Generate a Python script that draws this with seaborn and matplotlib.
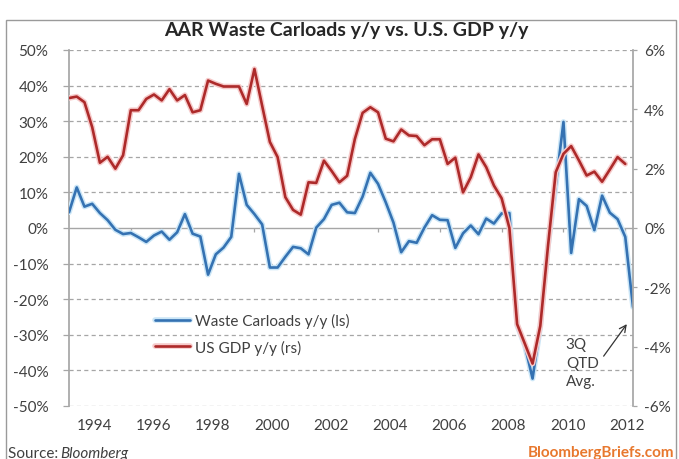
import numpy as np
import pandas as pd
import matplotlib
matplotlib.use("Agg")
import matplotlib.pyplot as plt
import matplotlib.patheffects as pe
from matplotlib.patches import Rectangle
import seaborn as sns

# Quarterly series, y/y % change
carloads = [4.4, 11.4, 6.0, 6.8, 4.2, 2.2, -0.5, -1.7, -1.4, -2.6,
            -3.9, -2.1, -1.0, -3.3, -1.2, 3.9, -1.6, -2.4, -13.1, -7.4,
            -5.5, -2.5, 15.2, 6.5, 3.9, 1.0, -11.1, -11.1, -8.1, -5.3,
            -5.7, -7.4, 0.1, 2.5, 6.5, 7.1, 4.4, 4.2, 8.8, 15.5,
            12.4, 7.2, 1.5, -6.8, -3.7, -4.15, 0.1, 3.6, 2.3, 2.2,
            -5.6, -1.5, 0.7, -1.75, 2.65, 1.25, 4.1, 4.2, -27.3, -33.0,
            -42.3, -27.7, -5.1, 11.9, 29.8, -7.0, 8.1, 6.2, -0.6, 9.1,
            4.3, 2.5, -2.5, -22.2]
gdp = [4.38, 4.43, 4.24, 3.4, 2.2, 2.4, 2.0, 2.45, 3.97, 3.97,
       4.35, 4.5, 4.3, 4.68, 4.3, 4.48, 3.9, 3.97, 4.97, 4.86,
       4.77, 4.77, 4.77, 4.18, 5.36, 4.12, 2.9, 2.39, 1.04, 0.61,
       0.45, 1.54, 1.52, 2.27, 1.92, 1.54, 1.76, 3.0, 3.88, 4.07,
       3.9, 3.01, 2.92, 3.32, 3.12, 3.1, 2.79, 2.99, 2.99, 2.16,
       2.37, 1.2, 1.71, 2.48, 2.05, 1.43, 1.0, 0.0, -3.24, -3.9,
       -4.57, -3.3, -0.6, 1.88, 2.5, 2.76, 2.28, 1.77, 1.9, 1.56,
       1.97, 2.39, 2.16]
years = [1994, 1996, 1998, 2000, 2002, 2004, 2006, 2008, 2010, 2012]
left_ticks = list(range(-50, 51, 10))
right_ticks = list(range(-6, 7, 2))

n = len(carloads)
df_cl = pd.DataFrame({"q": np.arange(n), "v": carloads})
df_gdp = pd.DataFrame({"q": np.arange(len(gdp)), "v": gdp})

sns.set_theme(style="white")
plt.rcParams["font.family"] = ["Lato", "DejaVu Sans"]

TXT = "#404040"
GRID = "#a6a6a6"
BLUE = "#3572b2"
RED = "#ad2a2a"

fig = plt.figure(figsize=(6.79, 4.60), dpi=100)
ax = fig.add_axes([69 / 679, 1 - 407 / 460, 564 / 679, 356 / 460])
ax2 = ax.twinx()

# gridlines of the left scale
for t in left_ticks:
    if t == 0:
        ax.axhline(0, color=GRID, lw=1.0, zorder=1)
    else:
        ax.axhline(t, color=GRID, lw=0.9, ls=(0, (3.3, 2.6)), zorder=1)
# small category ticks along the zero line
ax.vlines(np.arange(8, n, 8), -1.2, 0, color=GRID, lw=0.9, zorder=1)

sns.lineplot(data=df_cl, x="q", y="v", ax=ax, color=BLUE, lw=1.9, zorder=3,
             label="Waste Carloads y/y (ls)", legend=False,
             path_effects=[pe.Stroke(linewidth=4.0, foreground="#cbe6f7"), pe.Normal()])
sns.lineplot(data=df_gdp, x="q", y="v", ax=ax2, color=RED, lw=1.9, zorder=3,
             label="US GDP y/y (rs)", legend=False,
             path_effects=[pe.Stroke(linewidth=4.0, foreground="#f6caca"), pe.Normal()])

ax.set_xlim(0, n - 1)
ax.set_ylim(-50, 50)
ax2.set_ylim(-6, 6)
ax.set_xlabel("")
ax.set_ylabel("")
ax2.set_ylabel("")

ax.set_yticks(left_ticks)
ax.set_yticklabels([f"{t}%" for t in left_ticks])
ax2.set_yticks(right_ticks)
ax2.set_yticklabels([f"{t}%" for t in right_ticks])
ax.set_xticks(np.linspace(3.25, 72.2, len(years)))
ax.set_xticklabels([str(y) for y in years])

ax.tick_params(axis="y", which="both", left=True, length=4, width=0.9,
               color=GRID, pad=11, labelsize=11, labelcolor=TXT)
ax2.tick_params(axis="y", right=True, length=3, width=0.9, color=GRID,
                pad=5, labelsize=11, labelcolor=TXT)
ax.tick_params(axis="x", length=0, pad=9, labelsize=11, labelcolor=TXT)

for a in (ax, ax2):
    a.spines["top"].set_visible(False)
    a.spines["bottom"].set_visible(False)
    a.spines["left"].set_color(GRID)
    a.spines["right"].set_color(GRID)
    a.set_facecolor("none")
ax2.spines["left"].set_visible(False)
ax.spines["right"].set_visible(False)

# legend
h1, l1 = ax.get_legend_handles_labels()
h2, l2 = ax2.get_legend_handles_labels()
leg = ax2.legend(h1 + h2, l1 + l2, loc="upper left",
                 bbox_to_anchor=((155 - 69) / 564, (407 - 314) / 356),
                 frameon=False, fontsize=11, handlelength=2.3,
                 handletextpad=0.3, labelspacing=0.75, borderpad=0,
                 borderaxespad=0)
for t in leg.get_texts():
    t.set_color(TXT)

# quarter-to-date annotation
ax.annotate("", xy=(72.2, -27.0), xytext=(69.2, -36.0),
            arrowprops=dict(arrowstyle="->", color="#333333", lw=0.9,
                            shrinkA=0, shrinkB=0))
ax.text(64.3, -30.5, "3Q\nQTD\nAvg.", ha="left", va="top", fontsize=11,
        color=TXT, linespacing=1.45)

fig.text(0.51, 1 - 31 / 460, "AAR Waste Carloads y/y vs. U.S. GDP y/y",
         ha="center", va="center", fontsize=14, fontweight="bold", color="#262626")
fig.text(8 / 679, 1 - 454 / 460, "Source: ", ha="left", va="center",
         fontsize=11, color=TXT)
fig.text(60 / 679, 1 - 454 / 460, "Bloomberg", ha="left", va="center",
         fontsize=11, color=TXT, style="italic")
fig.text(674 / 679, 1 - 453 / 460, "BloombergBriefs.com", ha="right",
         va="center", fontsize=11, color="#e8782e", fontweight="bold")

fig.patches.append(Rectangle((6 / 679, -0.05), 670 / 679, 1.05 - 21 / 460,
                             transform=fig.transFigure, fill=False,
                             edgecolor="#9a9a9a", lw=1.0))

fig.savefig("out.png", dpi=100)
